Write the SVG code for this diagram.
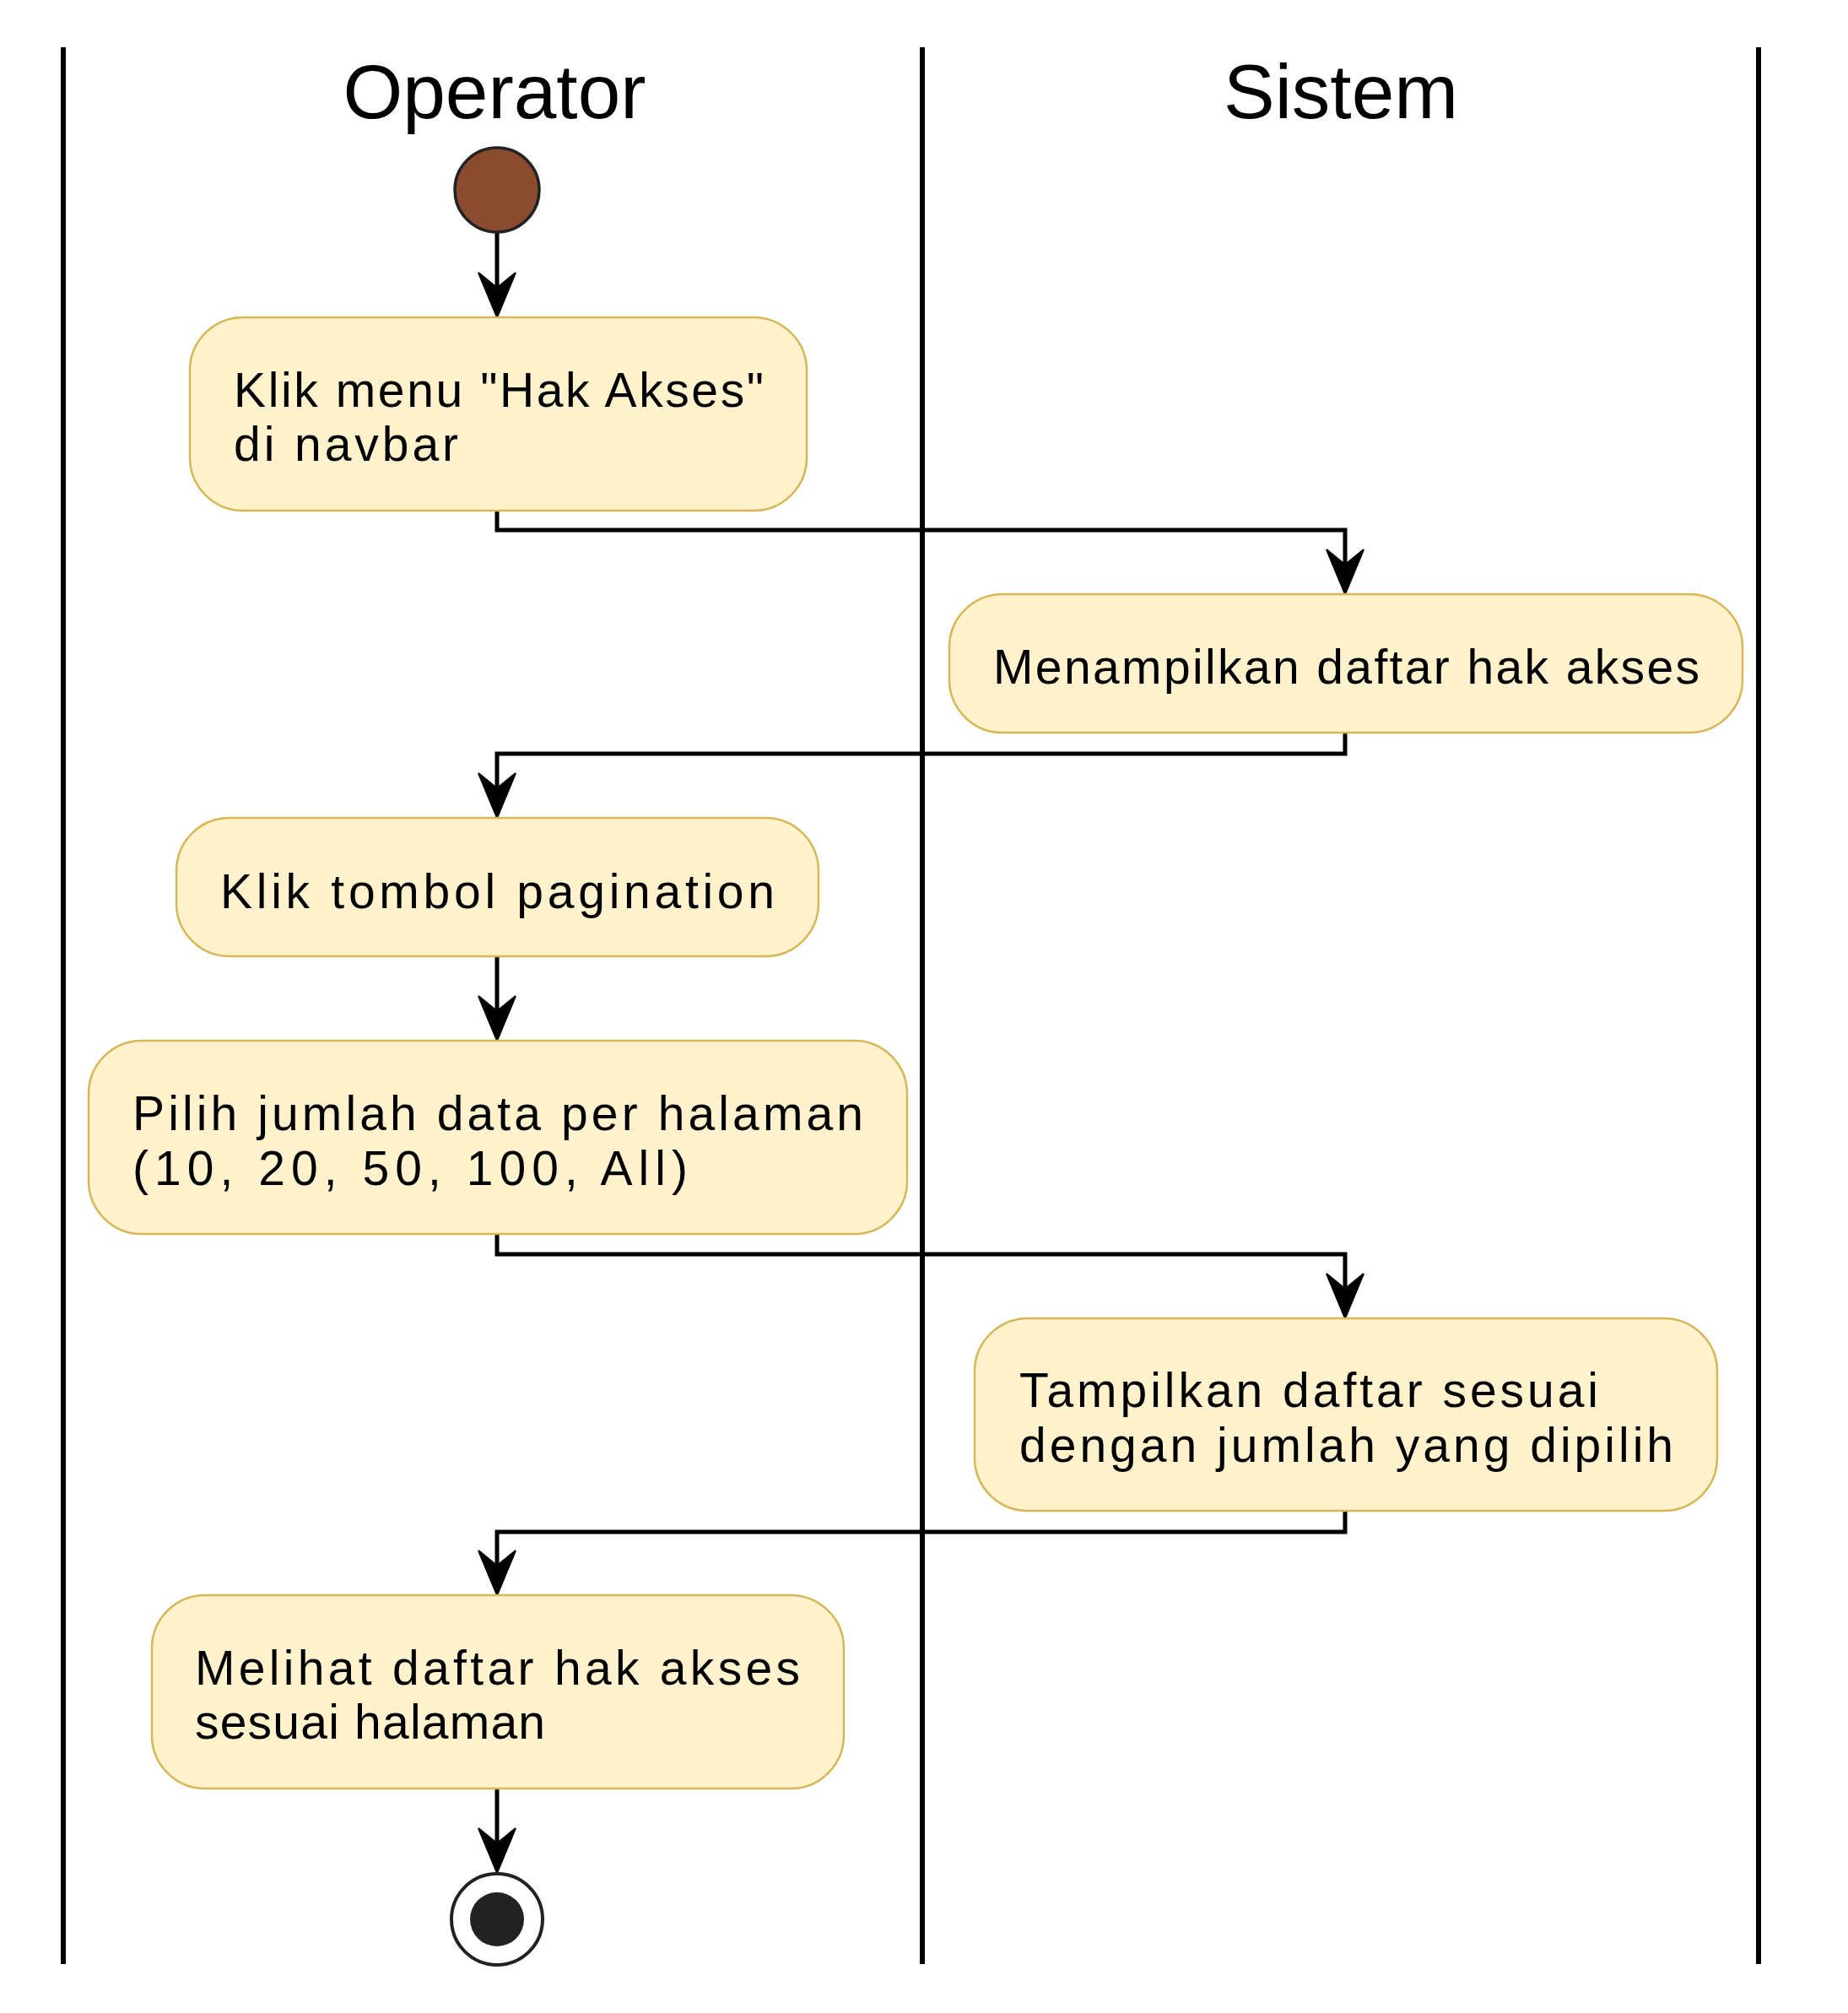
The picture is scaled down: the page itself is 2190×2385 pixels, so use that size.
<svg xmlns="http://www.w3.org/2000/svg" width="2190" height="2385" viewBox="0 0 2190 2385">
<style>
.lane{stroke:#000;stroke-width:6;fill:none}
.title{font-family:"Liberation Sans",Arial,sans-serif;font-size:91px;fill:#000;text-anchor:middle}
.box{fill:#FFF2CC;stroke:#D6B656;stroke-width:2.5}
.lbl{font-family:"Liberation Sans",Arial,sans-serif;font-size:57px;fill:#000}
.edge{stroke:#000;stroke-width:5;fill:none;marker-end:url(#arr)}
</style>
<defs>
<marker id="arr" markerUnits="userSpaceOnUse" viewBox="-2 -2 57 50" markerWidth="57" markerHeight="50" refX="18" refY="23" orient="auto">
<path d="M53,23 L0,1 L18,23 L0,45 Z" fill="#000" stroke="#000" stroke-width="2" stroke-linejoin="miter"/>
</marker>
</defs>
<rect width="2190" height="2385" fill="#fff"/>
<g id="lanes">
<line class="lane" x1="75" y1="56" x2="75" y2="2327"/>
<line class="lane" x1="1093" y1="56" x2="1093" y2="2327"/>
<line class="lane" x1="2084" y1="56" x2="2084" y2="2327"/>
<text class="title" x="586" y="140">Operator</text>
<text class="title" x="1589" y="140">Sistem</text>
</g>
<g id="connectors">
<path class="edge" d="M589,276 L589,341"/>
<path class="edge" d="M589,605 L589,628 L1594,628 L1594,669"/>
<path class="edge" d="M1594,868 L1594,893 L589,893 L589,934"/>
<path class="edge" d="M589,1133 L589,1198"/>
<path class="edge" d="M589,1462 L589,1486 L1594,1486 L1594,1527"/>
<path class="edge" d="M1594,1790 L1594,1815 L589,1815 L589,1855"/>
<path class="edge" d="M589,2119 L589,2184"/>
</g>
<g id="start">
<circle cx="589" cy="225" r="50" fill="#8A4B2F" stroke="#222" stroke-width="3.5"/>
</g>
<g id="node1">
<rect class="box" x="225" y="376" width="731" height="229" rx="63" ry="63"/>
<text class="lbl" x="277" y="482" textLength="628" lengthAdjust="spacing">Klik menu "Hak Akses"</text>
<text class="lbl" x="277" y="546" textLength="266" lengthAdjust="spacing">di navbar</text>
</g>
<g id="node2">
<rect class="box" x="1125" y="704" width="940" height="164" rx="63" ry="63"/>
<text class="lbl" x="1177" y="810" textLength="837" lengthAdjust="spacing">Menampilkan daftar hak akses</text>
</g>
<g id="node3">
<rect class="box" x="209" y="969" width="761" height="164" rx="63" ry="63"/>
<text class="lbl" x="261" y="1076" textLength="657" lengthAdjust="spacing">Klik tombol pagination</text>
</g>
<g id="node4">
<rect class="box" x="105" y="1233" width="970" height="229" rx="63" ry="63"/>
<text class="lbl" x="157" y="1339" textLength="866" lengthAdjust="spacing">Pilih jumlah data per halaman</text>
<text class="lbl" x="157" y="1404" textLength="658" lengthAdjust="spacing">(10, 20, 50, 100, All)</text>
</g>
<g id="node5">
<rect class="box" x="1155" y="1562" width="880" height="228" rx="63" ry="63"/>
<text class="lbl" x="1208" y="1667" textLength="686" lengthAdjust="spacing">Tampilkan daftar sesuai</text>
<text class="lbl" x="1208" y="1732" textLength="775" lengthAdjust="spacing">dengan jumlah yang dipilih</text>
</g>
<g id="node6">
<rect class="box" x="180" y="1890" width="820" height="229" rx="63" ry="63"/>
<text class="lbl" x="231" y="1996" textLength="717" lengthAdjust="spacing">Melihat daftar hak akses</text>
<text class="lbl" x="231" y="2060" textLength="415" lengthAdjust="spacing">sesuai halaman</text>
</g>
<g id="end">
<circle cx="589" cy="2274" r="54" fill="#fff" stroke="#222" stroke-width="4"/>
<circle cx="589" cy="2274" r="32" fill="#222"/>
</g>
</svg>
